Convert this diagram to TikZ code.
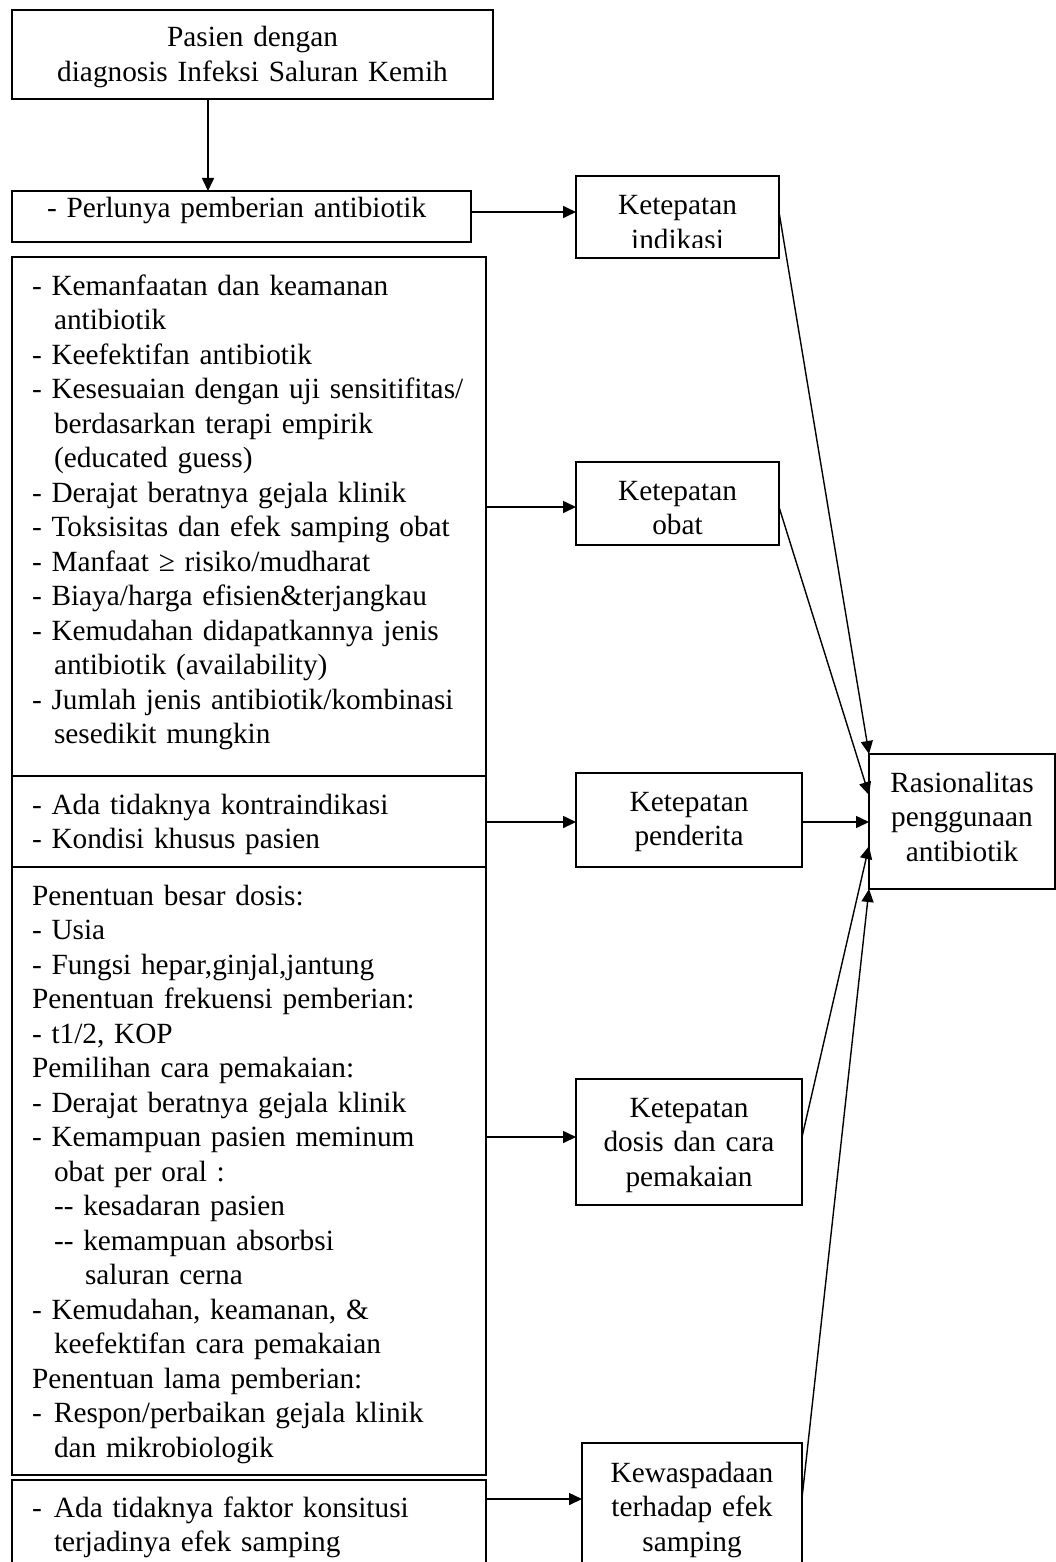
\documentclass[tikz,border=0pt]{standalone}
\usepackage{fontspec}
\setmainfont{Liberation Serif}
\usetikzlibrary{arrows.meta}
\usetikzlibrary{positioning}
\newcommand{\diagfont}{\fontsize{29.3pt}{34.5pt}\selectfont\hyphenpenalty=10000}
\newcommand{\indt}{\hspace*{22pt}}
\newcommand{\dsh}{\makebox[22pt][l]{-}}

\begin{document}
\begin{tikzpicture}[x=1pt,y=-1pt,->,>={Triangle[length=13pt,width=12pt]},line width=1.6pt,
    box node/.style={draw,line width=1.8pt,outer sep=0pt,inner ysep=0pt,anchor=north west,font=\diagfont,text height=38pt},
    list node/.style={box node,align=left,inner xsep=20pt},
    mid node/.style={box node,align=center,inner xsep=5pt}]
  \useasboundingbox (0,0) rectangle (1056,1562);
  % left column
  \node[mid node,text width=461pt,inner xsep=10pt,text height=37pt,text depth=52pt] (pasien) at (12,10)
    {Pasien dengan\\diagnosis Infeksi Saluran Kemih};
  \node[list node,text width=389pt,inner xsep=35pt,text height=27pt,text depth=24pt] (perlu) at (12,191)
    {- Perlunya pemberian antibiotik};
  \node[list node,text width=434pt,text depth=481pt] (b2) at (12,257)
    {- Kemanfaatan dan keamanan\\
     \indt antibiotik\\
     - Keefektifan antibiotik\\
     \mbox{- Kesesuaian dengan uji sensitifitas/}\\
     \indt berdasarkan terapi empirik\\
     \indt (educated guess)\\
     - Derajat beratnya gejala klinik\\
     \mbox{- Toksisitas dan efek samping obat}\\
     - Manfaat ≥ risiko/mudharat\\
     - Biaya/harga efisien\&terjangkau\\
     - Kemudahan didapatkannya jenis\\
     \indt antibiotik (availability)\\
     \mbox{- Jumlah jenis antibiotik/kombinasi}\\
     \indt sesedikit mungkin};
  \node[list node,text width=434pt,text depth=53pt] (b3) at (12,776)
    {- Ada tidaknya kontraindikasi\\
     - Kondisi khusus pasien};
  \node[list node,text width=434pt,text depth=570pt] (b4) at (12,867)
    {Penentuan besar dosis:\\
     - Usia\\
     - Fungsi hepar,ginjal,jantung\\
     Penentuan frekuensi pemberian:\\
     - t1/2, KOP\\
     Pemilihan cara pemakaian:\\
     - Derajat beratnya gejala klinik\\
     - Kemampuan pasien meminum\\
     \indt obat per oral :\\
     \indt -{}- kesadaran pasien\\
     \indt -{}- kemampuan absorbsi\\
     \hspace*{53pt}saluran cerna\\
     - Kemudahan, keamanan, \&\\
     \indt keefektifan cara pemakaian\\
     Penentuan lama pemberian:\\
     \mbox{\dsh Respon/perbaikan gejala klinik}\\
     \indt dan mikrobiologik};
  \node[list node,text width=434pt,text height=37pt,text depth=83pt] (b5) at (12,1480)
    {\dsh Ada tidaknya faktor konsitusi\\
     \indt terjadinya efek samping};
  % middle column
  \begin{scope}
    \clip (560,170) rectangle (800,247.5);
    \node[mid node,text width=193pt,text height=39pt,text depth=43pt] (ind) at (576,176) {Ketepatan\\indikasi};
  \end{scope}
  \draw[-,line width=1.8pt] (ind.south west) rectangle (ind.north east);
  \node[mid node,text width=193pt,text depth=45pt] (obat) at (576,462) {Ketepatan\\obat};
  \node[mid node,text width=216pt,text depth=56pt] (pend) at (576,773) {Ketepatan\\penderita};
  \node[mid node,text width=216pt,text depth=88pt] (dosis) at (576,1079) {Ketepatan\\dosis dan cara\\pemakaian};
  \node[mid node,text width=210pt,text height=39pt,text depth=118pt] (kew) at (582,1443) {Kewaspadaan\\terhadap efek\\samping};
  % right column
  \node[mid node,text width=176pt,text depth=97pt] (ras) at (869,754) {Rasionalitas\\penggunaan\\antibiotik};
  % arrows
  \coordinate (pdown) at (pasien.south -| 208,0);
  \path[->] (pdown) edge (pdown |- perlu.north);
  \path[->] (perlu.east |- 0,212) edge (ind.west |- 0,212);
  \path[->] (b2.east |- 0,507) edge (obat.west |- 0,507);
  \path[->] (b3.east |- 0,822) edge (pend.west |- 0,822);
  \path[->] (b4.east |- 0,1137) edge (dosis.west |- 0,1137);
  \path[->] (b5.east |- 0,1499) edge (kew.west |- 0,1499);
  \path[->,line width=1.4pt] (ind.east |- 0,212) edge (ras.north west);
  \path[->,line width=1.4pt] (obat.east |- 0,507) edge (ras.west |- 0,795);
  \path[->,line width=1.4pt] (pend.east |- 0,822) edge (ras.west |- 0,822);
  \path[->,line width=1.4pt] (dosis.east |- 0,1137) edge (ras.west |- 0,846);
  \path[->,line width=1.4pt] (kew.east |- 0,1498) edge (ras.south west);
\end{tikzpicture}
\end{document}
